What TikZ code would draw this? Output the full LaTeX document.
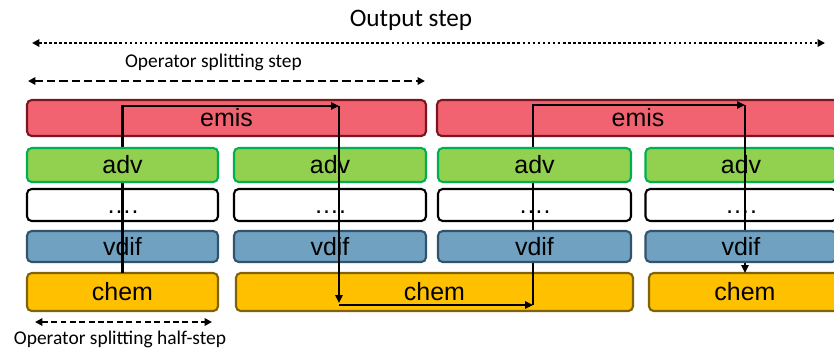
\documentclass[tikz,border=0pt]{standalone}
\usepackage{fontspec}
\setmainfont{Liberation Sans}
\newfontfamily\labelfont{Carlito}
\usetikzlibrary{arrows.meta}
\definecolor{emisfill}{RGB}{241,99,112}
\definecolor{emisline}{RGB}{122,22,32}
\definecolor{advfill}{RGB}{146,208,80}
\definecolor{advline}{RGB}{0,176,80}
\definecolor{vdiffill}{RGB}{112,161,193}
\definecolor{vdifline}{RGB}{49,83,108}
\definecolor{chemfill}{RGB}{255,192,0}
\definecolor{chemline}{RGB}{127,98,10}
\begin{document}
\begin{tikzpicture}[x=0.03cm, y=-0.03cm,
  box/.style={draw, line width=1.8pt, rounded corners=4pt, inner sep=0pt, outer sep=0pt,
    font=\fontsize{21.3}{25}\selectfont},
  emisbox/.style={box, fill=emisfill, draw=emisline, minimum height=36*0.03cm},
  advbox/.style={box, fill=advfill, draw=advline, minimum height=34*0.03cm},
  dotbox/.style={box, fill=white, draw=black, minimum height=32*0.03cm},
  vdifbox/.style={box, fill=vdiffill, draw=vdifline, minimum height=31*0.03cm},
  chembox/.style={box, fill=chemfill, draw=chemline, minimum height=38*0.03cm},
  flow/.style={line width=1.9pt, -{Triangle[length=2.4mm,width=2.2mm]}},
  span/.style={line width=1.9pt, {Triangle[length=2.2mm,width=2.2mm]}-{Triangle[length=2.2mm,width=2.2mm]}},
  lbl/.style={font=\labelfont\fontsize{16.6}{20}\selectfont}]
  \useasboundingbox (0,0) rectangle (834,350);
  \clip (0,0) rectangle (834,350);

  \node[font=\labelfont\fontsize{21.5}{25}\selectfont] (title) at (411,20) {Output step};
  \coordinate (out1) at (32,43);
  \coordinate (out2) at (825,43);
  \draw[span, dash pattern=on 2.3pt off 2pt] (out1) -- (out2);
  \node[lbl] (split) at (213.5,62) {Operator splitting step};
  \coordinate (split1) at (28,81);
  \coordinate (split2) at (425,81);
  \draw[span, dash pattern=on 7pt off 3.5pt] (split1) -- (split2);

  \node[emisbox, minimum width=399*0.03cm] (emis1) at (226.5,118) {emis};
  \node[emisbox, minimum width=402*0.03cm] (emis2) at (638,118) {emis};
  \node[chembox, minimum width=191*0.03cm] (chem1) at (122.5,292) {chem};
  \node[chembox, minimum width=397*0.03cm] (chem2) at (434.5,292) {chem};
  \node[chembox, minimum width=192*0.03cm] (chem3) at (745,292) {chem};
  \foreach \n/\x/\w in {1/122.5/191, 2/330/192, 3/534.5/193, 4/741/191}
    \node[dotbox, minimum width=\w*0.03cm] (dots\n) at (\x,205) {\vphantom{adv}….};
  \foreach \n/\x/\w in {2/330/192, 4/741/191}
    \node[advbox, minimum width=\w*0.03cm] (adv\n) at (\x,165) {adv};
  \foreach \n/\x/\w in {1/122.5/191, 2/330/192}
    \node[vdifbox, minimum width=\w*0.03cm] (vdif\n) at (\x,246.5) {vdif};

  \coordinate (top1) at (339,106);
  \coordinate (bot1) at (339,305);
  \coordinate (bot2) at (533,305);
  \coordinate (top2) at (745,105);
  \draw[flow] (chem1.north) |- (top1);
  \draw[flow] (top1) -- ([yshift=0.06cm]bot1);
  \draw[flow] (bot1) -- (bot2);
  \draw[flow] (bot2) |- (top2);
  \draw[flow] (top2) -- (chem3.north);

  \foreach \n/\x/\w in {1/122.5/191, 3/534.5/193}
    \node[advbox, minimum width=\w*0.03cm] (adv\n) at (\x,165) {adv};
  \foreach \n/\x/\w in {3/534.5/193, 4/741/191}
    \node[vdifbox, minimum width=\w*0.03cm] (vdif\n) at (\x,246.5) {vdif};

  \coordinate (half1) at (35,322);
  \coordinate (half2) at (212,322);
  \draw[span, dash pattern=on 5pt off 3pt] (half1) -- (half2);
  \node[lbl] (halfstep) at (120,339) {Operator splitting half-step};
\end{tikzpicture}
\end{document}
